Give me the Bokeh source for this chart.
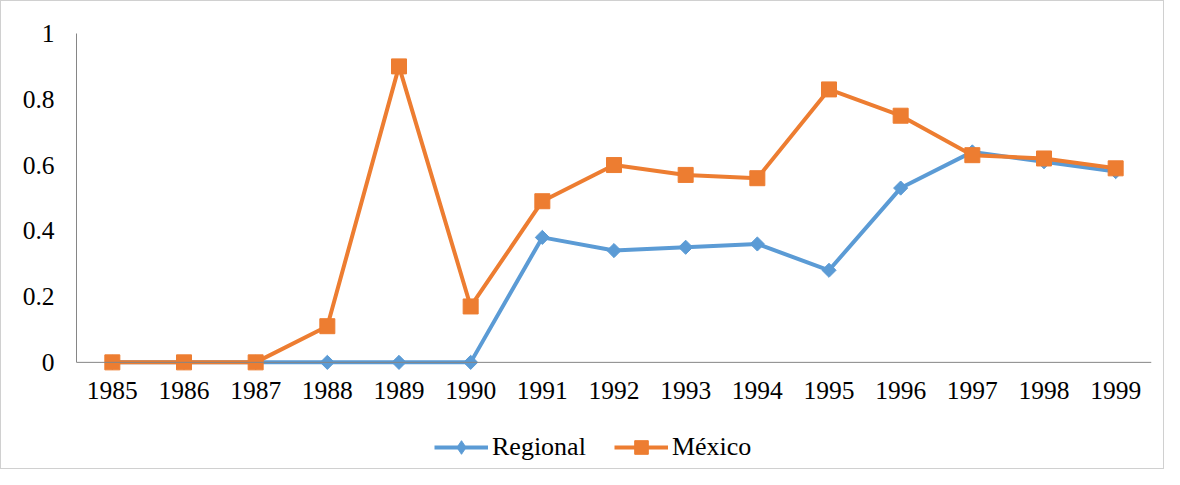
import math
from bokeh.plotting import figure
from bokeh.layouts import column
from bokeh.models import Legend, LegendItem, FixedTicker, NumeralTickFormatter, ColumnDataSource, Span
from bokeh.embed import file_html
from bokeh.resources import INLINE

years = ["1985", "1986", "1987", "1988", "1989", "1990", "1991", "1992",
         "1993", "1994", "1995", "1996", "1997", "1998", "1999"]
regional = [0, 0, 0, 0, 0, 0, 0.38, 0.34, 0.35, 0.36, 0.28, 0.53, 0.64, 0.61, 0.58]
mexico = [0, 0, 0, 0.11, 0.90, 0.17, 0.49, 0.60, 0.57, 0.56, 0.83, 0.75, 0.63, 0.62, 0.59]
y_ticks = [0, 0.2, 0.4, 0.6, 0.8, 1]

BLUE = "#5B9BD5"
ORANGE = "#ED7D31"
AXIS = "#868686"
BORDER = "#D0D0D0"
FONT = "Liberation Serif"

xs = list(range(len(years)))
src = ColumnDataSource(dict(x=xs, r=regional, m=mexico))

W = 1164
H1 = 416
H2 = 53

p = figure(x_range=(-0.5, len(years) - 0.5), y_range=(-0.046, 1), width=W, height=H1,
           output_backend="svg", toolbar_location=None,
           min_border_left=75, min_border_right=14, min_border_top=32, min_border_bottom=H1 - 376)
p.styles = {"border": f"1px solid {BORDER}", "border-bottom": "none", "box-sizing": "border-box"}
p.outline_line_color = None
p.grid.grid_line_color = None
p.background_fill_color = "white"
p.border_fill_color = "white"

for ax in (p.xaxis, p.yaxis):
    ax.axis_line_color = AXIS
    ax.axis_line_width = 1
    ax.major_tick_line_color = None
    ax.minor_tick_line_color = None
    ax.major_tick_out = 0
    ax.major_tick_in = 0
    ax.major_label_text_font = FONT
    ax.major_label_text_font_size = "25.5px"
    ax.major_label_text_color = "black"

p.xaxis.axis_line_color = None
p.xaxis.ticker = FixedTicker(ticks=xs)
p.xaxis.major_label_overrides = {i: y for i, y in zip(xs, years)}
p.xaxis.major_label_standoff = 4
p.yaxis.ticker = FixedTicker(ticks=y_ticks)
p.yaxis.formatter = NumeralTickFormatter(format="0.[0]")
p.yaxis.major_label_standoff = 22
p.yaxis.bounds = (0, 1)

p.add_layout(Span(location=0, dimension="width", line_color=AXIS, line_width=1))

line_kw = dict(line_width=4)
p.line("x", "r", source=src, line_color=BLUE, **line_kw)
p.scatter("x", "r", source=src, marker="square", angle=math.pi / 4, size=10,
          fill_color=BLUE, line_color=BLUE)
p.line("x", "m", source=src, line_color=ORANGE, **line_kw)
p.scatter("x", "m", source=src, marker="square", size=15, fill_color=ORANGE, line_color=ORANGE)

# Legend strip (renderers share the data but lie outside this strip's view)
q = figure(x_range=(100, 200), y_range=(100, 200), width=W, height=H2,
           output_backend="svg", toolbar_location=None,
           x_axis_location=None, y_axis_location=None,
           min_border_left=0, min_border_right=0, min_border_top=0, min_border_bottom=0)
q.styles = {"border": f"1px solid {BORDER}", "border-top": "none", "box-sizing": "border-box"}
q.outline_line_color = None
q.grid.grid_line_color = None
q.background_fill_color = "white"
q.border_fill_color = "white"

lrl = q.line("x", "r", source=src, line_color=BLUE, **line_kw)
lrs = q.scatter("x", "r", source=src, marker="diamond", size=14,
                fill_color=BLUE, line_color=BLUE)
lml = q.line("x", "m", source=src, line_color=ORANGE, **line_kw)
lms = q.scatter("x", "m", source=src, marker="square", size=15, fill_color=ORANGE, line_color=ORANGE)

legend = Legend(items=[LegendItem(label="Regional", renderers=[lrl, lrs]),
                       LegendItem(label="México", renderers=[lml, lms])],
                orientation="horizontal", location=(358, 5),
                label_text_font=FONT, label_text_font_size="26px", label_text_color="black",
                glyph_width=54, glyph_height=34, spacing=28, label_standoff=4,
                border_line_color=None, background_fill_alpha=0, padding=0, margin=0)
q.add_layout(legend, "center")

layout = column(p, q, spacing=0)
open("out.html", "w").write(file_html(layout, INLINE))
